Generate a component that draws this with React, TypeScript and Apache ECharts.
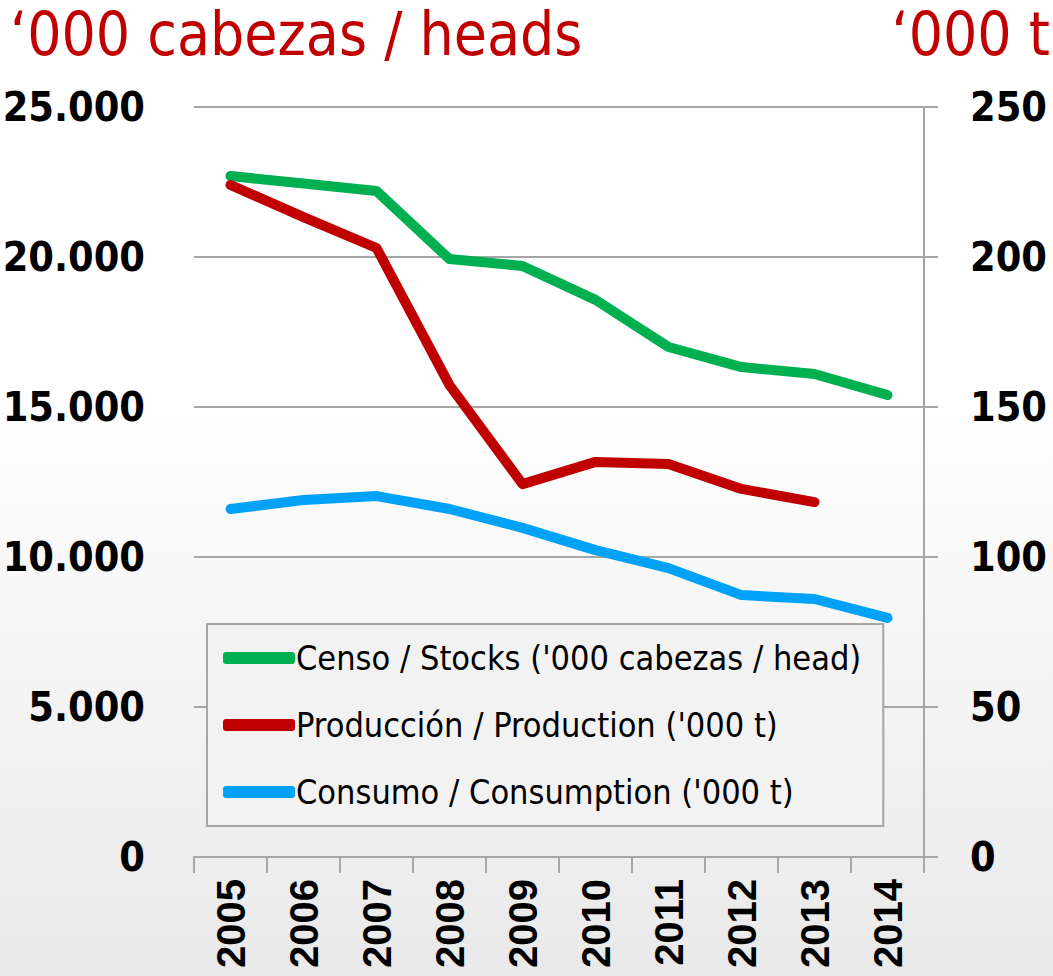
import React, { useEffect, useRef } from "react";
import * as echarts from "echarts";

const years = ["2005", "2006", "2007", "2008", "2009", "2010", "2011", "2012", "2013", "2014"];
const stocks = [22700, 22450, 22200, 19930, 19700, 18570, 17000, 16330, 16100, 15400];
const production = [224, 213.3, 203, 157.3, 124.3, 131.7, 131, 122.7, 118.3, null];
const consumption = [116, 119, 120.3, 116, 109.7, 102.3, 96.3, 87.3, 86, 79.7];
const seriesNames = [
  "Censo / Stocks ('000 cabezas / head)",
  "Producción / Production ('000 t)",
  "Consumo / Consumption ('000 t)",
];
const leftTitle = "‘000 cabezas / heads";
const rightTitle = "‘000 t";

const NARROW = "'DejaVu Sans Condensed', 'Liberation Sans Narrow', sans-serif";

export default function App() {
  const ref = useRef<HTMLDivElement>(null);
  useEffect(() => {
    const chart = echarts.init(ref.current!, null, { renderer: "svg" });
    const grey = "#a6a6a6";
    chart.setOption({
      animation: false,
      backgroundColor: "transparent",
      grid: { left: 194, right: 129, top: 107, bottom: 119, outerBoundsMode: "none" },
      graphic: [
        {
          type: "text",
          left: 10,
          top: 4,
          style: { text: leftTitle, fill: "#c00000", font: `normal 60px ${NARROW}` },
        },
        {
          type: "text",
          right: 3,
          top: 4,
          style: { text: rightTitle, fill: "#c00000", font: `normal 60px ${NARROW}` },
        },
      ],
      legend: {
        orient: "vertical",
        left: 207,
        top: 624,
        padding: [17, 22, 17, 16],
        itemGap: 33,
        itemWidth: 72,
        itemHeight: 12,
        backgroundColor: "#f2f2f2",
        borderColor: grey,
        borderWidth: 2,
        textStyle: { fontFamily: NARROW, fontSize: 34, color: "#000", padding: [0, 0, 0, -4] },
        data: seriesNames.map((n) => ({ name: n, icon: "roundRect" })),
      },
      xAxis: {
        type: "category",
        data: years,
        boundaryGap: true,
        axisLine: { lineStyle: { color: grey, width: 2 } },
        axisTick: { show: true, length: 16, lineStyle: { color: grey, width: 2 } },
        axisLabel: {
          rotate: 90,
          margin: 22,
          fontFamily: "'Liberation Sans', Arial, sans-serif",
          fontWeight: "bold",
          fontSize: 40,
          color: "#000",
        },
      },
      yAxis: [
        {
          type: "value",
          min: 0,
          max: 25000,
          interval: 5000,
          axisLine: { show: false },
          axisTick: { show: false },
          splitLine: { lineStyle: { color: grey, width: 2 } },
          axisLabel: {
            margin: 49,
            fontFamily: NARROW,
            fontWeight: "bold",
            fontSize: 41,
            color: "#000",
            formatter: (v: number) => (v === 0 ? "0" : (v / 1000).toFixed(3)),
          },
        },
        {
          type: "value",
          min: 0,
          max: 250,
          interval: 50,
          position: "right",
          axisLine: { show: true, lineStyle: { color: grey, width: 2 } },
          axisTick: { show: true, length: 14, lineStyle: { color: grey, width: 2 } },
          splitLine: { show: false },
          axisLabel: {
            margin: 46,
            fontFamily: NARROW,
            fontWeight: "bold",
            fontSize: 41,
            color: "#000",
          },
        },
      ],
      series: [
        {
          name: seriesNames[0],
          type: "line",
          yAxisIndex: 0,
          data: stocks,
          symbol: "none",
          color: "#00b050",
          lineStyle: { width: 10, cap: "round", join: "round" },
        },
        {
          name: seriesNames[1],
          type: "line",
          yAxisIndex: 1,
          data: production,
          symbol: "none",
          color: "#c00000",
          lineStyle: { width: 10, cap: "round", join: "round" },
        },
        {
          name: seriesNames[2],
          type: "line",
          yAxisIndex: 1,
          data: consumption,
          symbol: "none",
          color: "#00a2f8",
          lineStyle: { width: 10, cap: "round", join: "round" },
        },
      ],
    });
    return () => chart.dispose();
  }, []);
  return (
    <div
      style={{
        position: "fixed",
        left: 0,
        top: 0,
        width: 1053,
        height: 976,
        background: "linear-gradient(to bottom, #ffffff 0%, #ffffff 40%, #e9e9e9 100%)",
      }}
    >
      <div ref={ref} style={{ width: 1053, height: 976 }} />
    </div>
  );
}
